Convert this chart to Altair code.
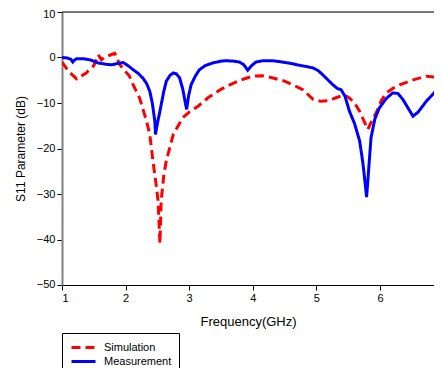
import altair as alt
import pandas as pd

sim_f = [1.0, 1.1, 1.23, 1.38, 1.5, 1.57, 1.62, 1.68, 1.75, 1.83, 1.91, 2.06, 2.12, 2.22, 2.33, 2.38, 2.43,
         2.48, 2.51, 2.54, 2.56, 2.6, 2.64, 2.75, 2.9, 3.0, 3.14, 3.3, 3.5, 3.64, 3.8, 4.0, 4.15, 4.32, 4.5,
         4.63, 4.79, 4.95, 5.07, 5.2, 5.3, 5.43, 5.52, 5.6, 5.68, 5.75, 5.81, 5.87, 5.94, 6.02, 6.1, 6.2,
         6.31, 6.5, 6.73, 6.85, 6.97]
sim_db = [-1.0, -3.0, -4.7, -3.4, -1.8, 0.6, -0.5, 0.2, 0.5, 0.9, -1.6, -4.1, -6.0, -8.9, -14.0, -16.9, -22.7,
          -28.0, -31.4, -40.9, -31.4, -26.0, -22.7, -16.9, -13.2, -12.0, -10.7, -8.8, -7.0, -6.0, -5.0, -4.1, -4.0, -4.5, -5.2,
          -6.0, -7.1, -9.2, -9.6, -9.5, -8.9, -8.2, -8.9, -10.0, -11.8, -14.0, -15.8, -14.0, -12.2, -9.5, -7.8, -6.8,
          -6.0, -5.0, -4.1, -4.3, -4.9]

meas_f = [1.0, 1.08, 1.14, 1.17, 1.2, 1.23, 1.35, 1.44, 1.57, 1.7, 1.78, 1.88, 1.96, 2.04, 2.12, 2.2, 2.27, 2.33,
          2.38, 2.42, 2.46, 2.47, 2.5, 2.54, 2.6, 2.64, 2.7, 2.75, 2.8, 2.85, 2.9, 2.94, 2.96, 2.99, 3.03, 3.1, 3.16,
          3.25, 3.37, 3.5, 3.58, 3.7, 3.79, 3.86, 3.92, 3.98, 4.05, 4.16, 4.3, 4.42, 4.6, 4.73, 4.85, 4.95, 5.03,
          5.1, 5.18, 5.26, 5.33, 5.39, 5.45, 5.52, 5.6, 5.68, 5.73, 5.77, 5.79, 5.81, 5.86, 5.92, 5.99, 6.1, 6.2,
          6.28, 6.36, 6.45, 6.52, 6.6, 6.73, 6.85, 6.97]
meas_db = [0.0, -0.1, -0.4, -1.0, -0.5, -0.3, -0.3, -0.5, -1.2, -1.5, -1.6, -1.3, -1.1, -1.8, -2.7, -3.5, -4.5, -5.7,
           -7.4, -10.0, -14.0, -16.9, -14.5, -11.8, -7.5, -5.2, -3.9, -3.4, -3.6, -4.5, -7.0, -10.0, -11.4, -8.5, -6.0, -4.0, -2.7,
           -1.8, -1.2, -0.8, -0.7, -0.8, -1.0, -1.6, -2.8, -1.8, -1.0, -0.7, -0.7, -0.9, -1.3, -1.7, -2.0, -2.3, -2.9,
           -3.8, -4.9, -6.0, -6.8, -7.1, -8.5, -11.8, -14.5, -18.3, -23.0, -28.0, -30.7, -27.0, -17.6, -13.5, -11.1, -9.0, -7.8,
           -7.9, -9.2, -11.3, -12.9, -12.0, -9.6, -7.8, -6.0]

series = ["Simulation", "Measurement"]

df = pd.concat([
    pd.DataFrame({"f": sim_f, "db": sim_db, "s": series[0], "o": range(len(sim_f))}),
    pd.DataFrame({"f": meas_f, "db": meas_db, "s": series[1], "o": range(len(meas_f))}),
])

FONT = "Liberation Sans"

legend_kw = dict(title=None, orient="none", legendX=0, legendY=321,
                 strokeColor="black", padding=7, symbolType="M-2,0H2",
                 symbolSize=144, symbolStrokeWidth=3, symbolOffset=7, labelFontSize=11,
                 labelFont=FONT, labelColor="black", rowPadding=0, labelOffset=13,
                 fillColor="white")

lines = alt.Chart(df).mark_line(strokeWidth=3, clip=True).encode(
    x=alt.X("f:Q", scale=alt.Scale(domain=[1, 6.85], nice=False, zero=False),
            axis=alt.Axis(title="Frequency(GHz)", values=[1, 2, 3, 4, 5, 6], grid=False,
                          domainColor="black", tickColor="black", tickSize=5, labelPadding=2,
                          titlePadding=12, labelFontSize=11, titleFontSize=13, titleFontWeight="normal",
                          labelFont=FONT, titleFont=FONT, labelColor="black", titleColor="black")),
    y=alt.Y("db:Q", scale=alt.Scale(domain=[-50, 10], nice=False),
            axis=alt.Axis(title="S11 Parameter (dB)", values=[10, 0, -10, -20, -30, -40, -50], grid=False,
                          domainColor="#808080", domainWidth=2, tickColor="black", tickSize=5, labelPadding=2,
                          labelFlush=True, labelFlushOffset=4,
                          titlePadding=9, labelFontSize=11, titleFontSize=12, titleFontWeight="normal",
                          labelFont=FONT, titleFont=FONT, labelColor="black", titleColor="black")),
    color=alt.Color("s:N", scale=alt.Scale(domain=series, range=["#ff0000", "#0000ff"]),
                    legend=alt.Legend(**legend_kw)),
    strokeDash=alt.StrokeDash("s:N", scale=alt.Scale(domain=series, range=[[9, 5], [1, 0]]),
                              legend=alt.Legend(**legend_kw)),
    order="o:Q",
)

top = alt.Chart(pd.DataFrame({"a": [0]})).mark_rule(color="black", strokeWidth=1).encode(
    x=alt.value(0), x2=alt.value(372), y=alt.value(0)
)

chart = alt.layer(lines, top).properties(
    width=372, height=273,
    autosize=alt.AutoSizeParams(type="none"),
    padding={"left": 54, "top": 4, "right": 0, "bottom": 83},
).configure_view(stroke=None).configure(background="white")

chart.save("out.html", embed_options={"renderer": "svg", "actions": False})
